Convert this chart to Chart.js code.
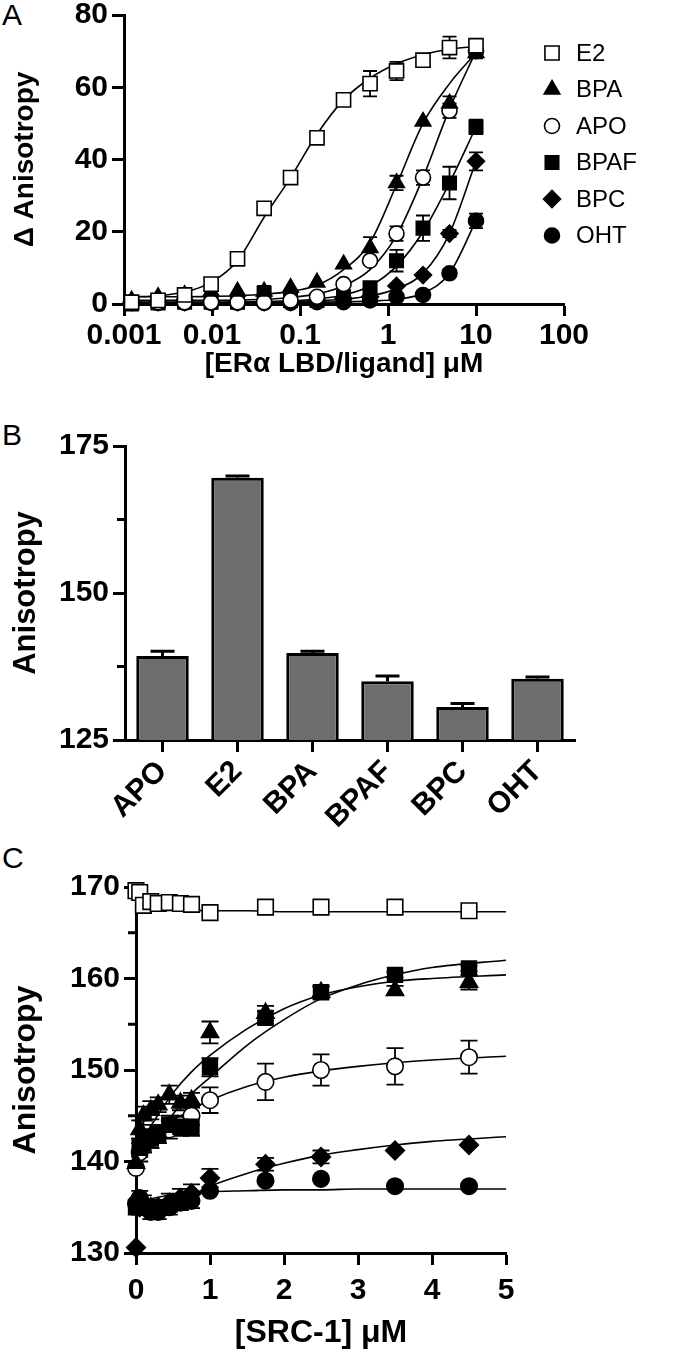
<!DOCTYPE html>
<html><head><meta charset="utf-8">
<script src="https://cdn.jsdelivr.net/npm/chart.js@4.4.0/dist/chart.umd.min.js"></script>
<style>
html,body{margin:0;padding:0;background:#fff;}
body{width:680px;height:1356px;position:relative;overflow:hidden;font-family:"Liberation Sans",Arial,Helvetica,sans-serif;}
.wrap{position:absolute;left:0;width:680px;}
.plbl{position:absolute;left:2px;font-size:30px;line-height:30px;color:#000;}
</style></head><body>
<div class="plbl" style="top:0px">A</div>
<div class="plbl" style="top:420px">B</div>
<div class="plbl" style="top:843px">C</div>
<div class="wrap" style="top:0;height:400px"><canvas id="cA" width="680" height="400"></canvas></div>
<div class="wrap" style="top:400px;height:440px"><canvas id="cB" width="680" height="440"></canvas></div>
<div class="wrap" style="top:840px;height:516px"><canvas id="cC" width="680" height="516"></canvas></div>
<script>
// ---------------- DATA ----------------
// Panel A: concentration of ERα LBD/ligand (µM) and Δ anisotropy
const concA = [0.00122, 0.00244, 0.00488, 0.00977, 0.0195, 0.0391, 0.0781, 0.156, 0.3125, 0.625, 1.25, 2.5, 5, 10];
const e2A    = [0.5, 1, 2.5, 5.5, 12.5, 26.5, 35, 46, 56.5, 61, 64.5, 67.5, 71, 71.5];
const e2AErr = [0, 0, 0, 0, 0, 0, 0, 0, 1, 3.5, 2.5, 1, 3, 1.5];
const bpaA    = [1, 2, 2.5, 3.5, 3.5, 3.5, 4.5, 6, 11, 15.5, 33.5, 50.5, 55.5, 69.5];
const bpaAErr = [0, 0, 0, 0, 0, 0, 0, 0, 0, 3, 2, 0, 2, 1.5];
const apoA    = [0.5, 0.5, 0.5, 0.5, 0.5, 0.5, 1, 2, 5.5, 12, 19.5, 35, 53.5, 70];
const apoAErr = [0, 0, 0, 0, 0, 0, 0, 0, 0, 0, 2, 2, 2, 1];
const bpafA    = [0, 0.3, 0.5, 0.5, 0.5, 3, 1, 1, 2, 4.5, 12, 21, 33.5, 49];
const bpafAErr = [0, 0, 0, 0, 0, 2, 0, 0, 0, 1, 3, 3.5, 4.5, 2];
const bpcA    = [0.5, 0.5, 0.5, 0.5, 0.5, 0.5, 0.5, 1, 1.5, 2, 5, 8, 19.5, 39.5];
const bpcAErr = [0, 0, 0, 0, 0, 0, 0, 0, 0, 0, 0, 0, 1, 2.5];
const ohtA    = [0.3, 0.3, 0.3, 0.3, 0.3, 0.3, 0.3, 0.5, 0.5, 1, 2, 2.5, 8.5, 23];
const ohtAErr = [0, 0, 0, 0, 0, 0, 0, 0, 0, 0, 0, 0, 1, 2];
// fitted curves at the same concentrations
const e2AFit   = [2, 2.3, 3.3, 6, 12, 24, 35, 47, 56.5, 62.5, 66.5, 69, 70.5, 71.3];
const bpaAFit  = [2, 2, 2, 2.1, 2.3, 2.7, 3.5, 5.2, 9.5, 17, 33, 50, 61, 69.5];
const apoAFit  = [1, 1, 1, 1, 1.1, 1.3, 1.8, 2.8, 5, 9.5, 19, 35, 54, 70];
const bpafAFit = [0.5, 0.5, 0.5, 0.5, 0.6, 0.7, 0.9, 1.4, 2.5, 5, 10.5, 20, 33.5, 49];
const bpcAFit  = [0.5, 0.5, 0.5, 0.5, 0.5, 0.6, 0.7, 0.9, 1.3, 2.2, 4.2, 8.5, 19.5, 39.5];
const ohtAFit  = [0.3, 0.3, 0.3, 0.3, 0.3, 0.3, 0.4, 0.5, 0.6, 0.8, 1.3, 3, 8.5, 23];
const ticksAx = [0.001, 0.01, 0.1, 1, 10, 100];
const ticksAy = [0, 20, 40, 60, 80];

// Panel B: anisotropy per ligand
const ligandsB  = ['APO', 'E2', 'BPA', 'BPAF', 'BPC', 'OHT'];
const anisoB    = [139.3, 169.6, 139.8, 135.0, 130.6, 135.4];
const anisoBErr = [0.8, 0.3, 0.3, 0.9, 0.6, 0.3];
const ticksBy = [125, 150, 175];
const minorBy = [137.5, 162.5];

// Panel C: [SRC-1] µM and anisotropy
const srcC = [0, 0.05, 0.1, 0.2, 0.3, 0.45, 0.6, 0.75, 1, 1.75, 2.5, 3.5, 4.5];
const e2C     = [169.6, 169.4, 168.0, 168.4, 168.2, 168.3, 168.2, 168.1, 167.2, 167.8, 167.8, 167.8, 167.4];
const bpaC    = [139.8, 143.5, 145, 145.6, 146.2, 147.3, 146.4, 146.7, 154.1, 156.2, 158.5, 158.7, 159.6];
const bpaCErr = [0, 1, 1, 1, 0.8, 1, 0.8, 0.8, 1.2, 0.8, 0.6, 0.5, 0.8];
const bpafC    = [135.0, 141.5, 142, 142.5, 143, 144, 143.8, 143.8, 150.3, 155.7, 158.5, 160.4, 161.1];
const bpafCErr = [0, 1, 1, 1, 1, 1, 1, 1, 1, 0.7, 0.7, 0.3, 0.3];
const apoC    = [139.3, 141, 142, 142.5, 143, 143.5, 144, 145, 146.7, 148.7, 150, 150.4, 151.4];
const apoCErr = [0, 1, 1, 1, 1, 1, 1, 1, 1.4, 2, 1.7, 2, 1.8];
const bpcC    = [130.6, 135, 135.5, 135, 135, 135.5, 136, 136.5, 138.2, 139.7, 140.5, 141.2, 141.8];
const bpcCErr = [0, 0.8, 0.8, 0.8, 0.8, 1, 1, 1, 1, 0.7, 0.7, 0, 0];
const ohtC    = [135.4, 136, 135, 134.5, 134.5, 135, 135.5, 135.7, 136.8, 137.9, 138.1, 137.3, 137.3];
const ohtCErr = [0, 0.8, 0.8, 0.8, 0.8, 0.8, 0.8, 0.8, 0, 0, 0, 0, 0];
const fitXC   = [0, 0.1, 0.25, 0.5, 0.75, 1, 1.5, 2, 2.5, 3, 3.5, 4, 5];
const e2CFit   = [169.3, 168.7, 168.1, 167.7, 167.5, 167.4, 167.4, 167.3, 167.3, 167.3, 167.3, 167.3, 167.3];
const bpaCFit  = [140.5, 142.5, 144.5, 147.5, 149.8, 151.6, 154.5, 156.7, 158.2, 159.1, 159.7, 160, 160.4];
const bpafCFit = [138.5, 140.5, 142.5, 145.2, 147.4, 149.2, 152.7, 155.5, 157.8, 159.3, 160.4, 161.2, 162];
const apoCFit  = [140, 141.2, 142.7, 144.4, 145.7, 146.7, 148.2, 149.2, 149.9, 150.4, 150.8, 151.1, 151.5];
const bpcCFit  = [135, 135.1, 135.3, 135.6, 136.3, 137.3, 138.7, 139.8, 140.7, 141.3, 141.8, 142.2, 142.7];
const ohtCFit  = [135, 135.6, 136, 136.4, 136.6, 136.7, 136.8, 136.9, 136.9, 137, 137, 137, 137];
const ticksCx = [0, 1, 2, 3, 4, 5];
const ticksCy = [130, 140, 150, 160, 170];
const minorCy = [135, 145, 155, 165];

// ---------------- STYLE ----------------
const FONT = '"Liberation Sans", Arial, Helvetica, sans-serif';
Chart.defaults.font.family = FONT;
Chart.defaults.color = '#000';
const MK = {
  E2:   {pointStyle: 'rect',     fill: '#fff', r: 10},
  BPA:  {pointStyle: 'triangle', fill: '#000', r: 9},
  APO:  {pointStyle: 'circle',   fill: '#fff', r: 7.5},
  BPAF: {pointStyle: 'rect',     fill: '#000', r: 9.5},
  BPC:  {pointStyle: 'rectRot',  fill: '#000', r: 8.5},
  OHT:  {pointStyle: 'circle',   fill: '#000', r: 7.5}
};
const tickFont = {size: 30, weight: 'bold', family: FONT};
const titleFontA = {size: 28, weight: 'bold', family: FONT};
const titleFontB = {size: 31, weight: 'bold', family: FONT};
const titleFontC = {size: 32, weight: 'bold', family: FONT};

function pts(xs, ys) { return xs.map((x, i) => ({x: x, y: ys[i]})); }
function markerDS(name, xs, ys, errs, k) {
  const m = MK[name];
  return {label: name, data: pts(xs, ys), errors: errs, showLine: false,
    pointStyle: m.pointStyle, pointRadius: m.r * k, pointHoverRadius: m.r * k,
    pointBackgroundColor: m.fill, pointBorderColor: '#000', pointBorderWidth: 1.6,
    order: 0, clip: false};
}
function fitDS(xs, ys) {
  return {label: '', data: pts(xs, ys), showLine: true, pointRadius: 0, pointHoverRadius: 0,
    borderColor: '#000', borderWidth: 1.6, cubicInterpolationMode: 'monotone',
    fill: false, order: 1, clip: false};
}
function errPlugin(cap, lw) {
  return {id: 'err', beforeDatasetsDraw(chart) {
    const ctx = chart.ctx, ys = chart.scales.y;
    chart.data.datasets.forEach((ds, i) => {
      if (!ds.errors) return;
      const meta = chart.getDatasetMeta(i);
      ctx.save(); ctx.strokeStyle = '#000'; ctx.lineWidth = lw;
      meta.data.forEach((el, j) => {
        const e = ds.errors[j]; if (!e) return;
        const v = ds.data[j].y;
        const t = ys.getPixelForValue(v + e), b = ys.getPixelForValue(v - e);
        ctx.beginPath();
        ctx.moveTo(el.x, t); ctx.lineTo(el.x, b);
        ctx.moveTo(el.x - cap / 2, t); ctx.lineTo(el.x + cap / 2, t);
        ctx.moveTo(el.x - cap / 2, b); ctx.lineTo(el.x + cap / 2, b);
        ctx.stroke();
      });
      ctx.restore();
    });
  }};
}
function legendPlugin(names, x, tx, y0, dy, k) {
  return {id: 'sideLegend', afterDraw(chart) {
    const ctx = chart.ctx;
    names.forEach((n, i) => {
      const m = MK[n], y = y0 + i * dy;
      ctx.save();
      ctx.fillStyle = m.fill; ctx.strokeStyle = '#000'; ctx.lineWidth = 1.6;
      Chart.helpers.drawPoint(ctx, {pointStyle: m.pointStyle, radius: m.r * k, rotation: 0, borderWidth: 1.6}, x, y);
      ctx.fillStyle = '#000'; ctx.font = '24px ' + FONT;
      ctx.textAlign = 'left'; ctx.textBaseline = 'middle';
      ctx.fillText(n, tx, y + 1);
      ctx.restore();
    });
  }};
}
function minorPlugin(values, len, lw) {
  return {id: 'minor', afterDraw(chart) {
    const ctx = chart.ctx, ys = chart.scales.y, x0 = chart.chartArea.left;
    ctx.save(); ctx.strokeStyle = '#000'; ctx.lineWidth = lw;
    values.forEach(v => {
      const y = ys.getPixelForValue(v);
      ctx.beginPath(); ctx.moveTo(x0 - len, y); ctx.lineTo(x0, y); ctx.stroke();
    });
    ctx.restore();
  }};
}
function axisBase(tickVals, fitFn) {
  return {
    border: {display: true, width: 3, color: '#000'},
    grid: {display: true, drawOnChartArea: false, drawTicks: true, tickLength: 12, tickWidth: 3, tickColor: '#000'},
    afterBuildTicks: s => { s.ticks = tickVals.map(v => ({value: v})); },
    afterFit: fitFn
  };
}

// ---------------- PANEL A ----------------
new Chart(document.getElementById('cA'), {
  type: 'scatter',
  data: {datasets: [
    markerDS('E2', concA, e2A, e2AErr, 1),
    markerDS('BPA', concA, bpaA, bpaAErr, 1),
    markerDS('APO', concA, apoA, apoAErr, 1),
    markerDS('BPAF', concA, bpafA, bpafAErr, 1),
    markerDS('BPC', concA, bpcA, bpcAErr, 1),
    markerDS('OHT', concA, ohtA, ohtAErr, 1),
    fitDS(concA, e2AFit), fitDS(concA, bpaAFit), fitDS(concA, apoAFit),
    fitDS(concA, bpafAFit), fitDS(concA, bpcAFit), fitDS(concA, ohtAFit)
  ]},
  options: {
    responsive: false, animation: false, events: [],
    layout: {padding: {left: 0, right: 116, top: 15, bottom: 0}},
    plugins: {legend: {display: false}, tooltip: {enabled: false}},
    scales: {
      x: Object.assign(axisBase(ticksAx, s => { s.height = 96; s.paddingLeft = 0; s.paddingRight = 0; }), {
        type: 'logarithmic', min: 0.001, max: 100,
        ticks: {font: tickFont, padding: 2, maxRotation: 0, autoSkip: false, callback: v => String(v)},
        title: {display: true, text: '[ERα LBD/ligand] μM', font: titleFontA, padding: {top: 0, bottom: 19}}
      }),
      y: Object.assign(axisBase(ticksAy, s => { s.width = 124; s.paddingTop = 0; s.paddingBottom = 0; }), {
        type: 'linear', min: 0, max: 80,
        ticks: {font: tickFont, padding: 4, autoSkip: false},
        title: {display: true, text: 'Δ Anisotropy', font: titleFontA, padding: {top: 8, bottom: 0}}
      })
    }
  },
  plugins: [errPlugin(14, 1.8), legendPlugin(['E2', 'BPA', 'APO', 'BPAF', 'BPC', 'OHT'], 552, 576, 53, 36.5, 1)]
});

// ---------------- PANEL B ----------------
new Chart(document.getElementById('cB'), {
  type: 'bar',
  data: {labels: ligandsB, datasets: [{
    data: anisoB, errorsUp: anisoBErr,
    backgroundColor: '#6d6d6d', borderColor: '#000', borderWidth: 3,
    categoryPercentage: 1, barPercentage: 0.7
  }]},
  options: {
    responsive: false, animation: false, events: [],
    layout: {padding: {left: 0, right: 105, top: 46, bottom: 0}},
    plugins: {legend: {display: false}, tooltip: {enabled: false}},
    scales: {
      x: {
        border: {display: true, width: 3, color: '#000'},
        grid: {display: true, offset: false, drawOnChartArea: false, drawTicks: true, tickLength: 12, tickWidth: 3, tickColor: '#000'},
        afterFit: s => { s.height = 100; s.paddingLeft = 0; s.paddingRight = 0; },
        ticks: {font: tickFont, padding: 2, minRotation: 45, maxRotation: 45, autoSkip: false}
      },
      y: Object.assign(axisBase(ticksBy, s => { s.width = 125; s.paddingTop = 0; s.paddingBottom = 0; }), {
        type: 'linear', min: 125, max: 175,
        ticks: {font: tickFont, padding: 4, autoSkip: false},
        title: {display: true, text: 'Anisotropy', font: titleFontB, padding: {top: 8, bottom: 0}}
      })
    }
  },
  plugins: [minorPlugin(minorBy, 8, 3), {id: 'barErr', afterDatasetsDraw(chart) {
    const ctx = chart.ctx, ys = chart.scales.y, ds = chart.data.datasets[0];
    const meta = chart.getDatasetMeta(0);
    ctx.save(); ctx.strokeStyle = '#000'; ctx.lineWidth = 3;
    meta.data.forEach((el, j) => {
      const t = ys.getPixelForValue(ds.data[j] + ds.errorsUp[j]);
      ctx.beginPath();
      ctx.moveTo(el.x, el.y); ctx.lineTo(el.x, t);
      ctx.moveTo(el.x - 12, t); ctx.lineTo(el.x + 12, t);
      ctx.stroke();
    });
    ctx.restore();
  }}]
});

// ---------------- PANEL C ----------------
new Chart(document.getElementById('cC'), {
  type: 'scatter',
  data: {datasets: [
    markerDS('E2', srcC, e2C, null, 1.1),
    markerDS('BPA', srcC, bpaC, bpaCErr, 1.1),
    markerDS('BPAF', srcC, bpafC, bpafCErr, 1.1),
    markerDS('APO', srcC, apoC, apoCErr, 1.1),
    markerDS('BPC', srcC, bpcC, bpcCErr, 1.1),
    markerDS('OHT', srcC, ohtC, ohtCErr, 1.1),
    fitDS(fitXC, e2CFit), fitDS(fitXC, bpaCFit), fitDS(fitXC, bpafCFit),
    fitDS(fitXC, apoCFit), fitDS(fitXC, bpcCFit), fitDS(fitXC, ohtCFit)
  ]},
  options: {
    responsive: false, animation: false, events: [],
    layout: {padding: {left: 0, right: 174, top: 47, bottom: 0}},
    plugins: {legend: {display: false}, tooltip: {enabled: false}},
    scales: {
      x: Object.assign(axisBase(ticksCx, s => { s.height = 103; s.paddingLeft = 0; s.paddingRight = 0; }), {
        type: 'linear', min: 0, max: 5,
        ticks: {font: tickFont, padding: 8, maxRotation: 0, autoSkip: false},
        title: {display: true, text: '[SRC-1] μM', font: titleFontC, padding: {top: 0, bottom: 4}}
      }),
      y: Object.assign(axisBase(ticksCy, s => { s.width = 136; s.paddingTop = 0; s.paddingBottom = 0; }), {
        type: 'linear', min: 130, max: 170,
        ticks: {font: tickFont, padding: 4, autoSkip: false},
        title: {display: true, text: 'Anisotropy', font: titleFontC, padding: {top: 7, bottom: 0}}
      })
    }
  },
  plugins: [errPlugin(17, 1.8), minorPlugin(minorCy, 8, 3), legendPlugin(['E2', 'BPA', 'BPAF', 'APO', 'BPC', 'OHT'], 560, 585, 966, 41, 1.1)]
});
</script>
</body></html>
